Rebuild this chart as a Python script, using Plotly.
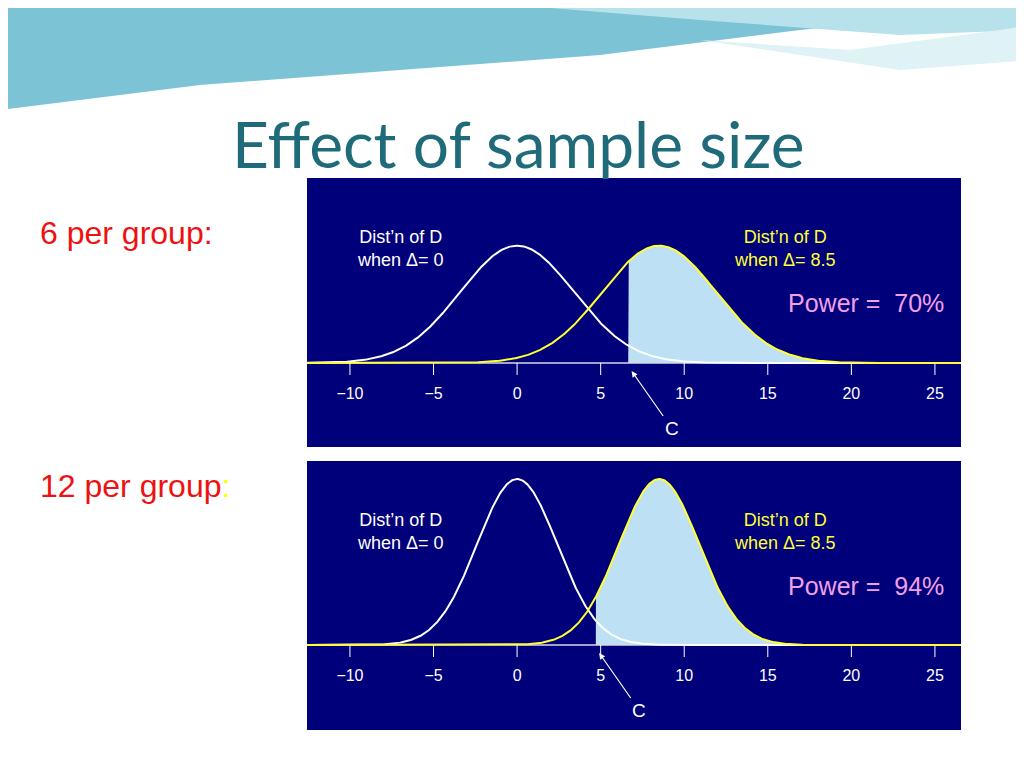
import numpy as np
import plotly.graph_objects as go

W, H = 1024, 768
OFF = 8
tick_vals = [-10, -5, 0, 5, 10, 15, 20, 25]
tick_text = ["\u221210", "\u22125", "0", "5", "10", "15", "20", "25"]
null_mean, alt_mean = 0.0, 8.5
sds = [3.4, 3.4 / np.sqrt(2)]
crits = [6.65, 4.71]
powers = ["70%", "94%"]
group_labels = ["6 per group:", "12 per group<span style='color:#ffff00'>:</span>"]

def px(x): return (x - OFF) / W
def py(y): return 1 - (y - OFF) / H

def dens(x, m, s): return np.exp(-0.5 * ((x - m) / s) ** 2) / (s * np.sqrt(2 * np.pi))

fig = go.Figure()
panels = [(178, 447, 363), (461, 730, 645)]
x = np.linspace(-12.6, 26.6, 800)
shapes, annos = [], []
for i, ((top, bot, base), sd, c, pw) in enumerate(zip(panels, sds, crits, powers)):
    n = "" if i == 0 else str(i + 1)
    shapes.append(dict(type="rect", xref="paper", yref="paper", x0=px(307), x1=px(961),
                       y0=py(bot), y1=py(top), fillcolor="#00007a", line_width=0, layer="below"))
    ymin = -(bot - base) * 0.001
    ymax = (base - top) * 0.001
    fig.update_layout(**{f"xaxis{n}": dict(domain=[px(307), px(961)], range=[-12.57, 26.56], visible=False,
                                           anchor=f"y{n}"),
                         f"yaxis{n}": dict(domain=[py(bot), py(top)], range=[ymin, ymax], visible=False,
                                           anchor=f"x{n}")})
    xa, ya = f"x{n}", f"y{n}"
    xs = x[x >= c]
    fig.add_trace(go.Scatter(x=np.r_[c, xs, xs[-1]], y=np.r_[0, dens(xs, alt_mean, sd), 0], fill="toself",
                             fillcolor="#bde0f5", line_width=0, mode="lines", xaxis=xa, yaxis=ya, hoverinfo="skip"))
    fig.add_trace(go.Scatter(x=[-12.6, 26.6], y=[0, 0], mode="lines", line=dict(color="#d8d8e8", width=1.5),
                             xaxis=xa, yaxis=ya))
    fig.add_trace(go.Scatter(x=x, y=dens(x, null_mean, sd), mode="lines", line=dict(color="white", width=2),
                             xaxis=xa, yaxis=ya))
    fig.add_trace(go.Scatter(x=x, y=dens(x, alt_mean, sd), mode="lines", line=dict(color="#ffff33", width=2),
                             xaxis=xa, yaxis=ya))
    tx, ty = [], []
    for t in tick_vals:
        tx += [t, t, None]; ty += [0, -0.012, None]
    fig.add_trace(go.Scatter(x=tx, y=ty, mode="lines", line=dict(color="white", width=1), xaxis=xa, yaxis=ya))
    fig.add_trace(go.Scatter(x=tick_vals, y=[-0.032] * 8, mode="text", text=tick_text,
                             textfont=dict(color="white", size=16, family="Liberation Sans"), xaxis=xa, yaxis=ya))
    yl = top + 70
    common = dict(xref="paper", yref="paper", showarrow=False, xanchor="center", yanchor="middle")
    annos.append(dict(x=px(400), y=py(yl), text="Dist\u2019n of D<br>when \u0394= 0",
                      font=dict(color="white", size=18, family="Liberation Sans"), **common))
    annos.append(dict(x=px(785), y=py(yl), text="Dist\u2019n of D<br>when \u0394= 8.5",
                      font=dict(color="#ffff33", size=18, family="Liberation Sans"), **common))
    annos.append(dict(x=px(866), y=py(top + 125), text=f"Power =  {pw}",
                      font=dict(color="#f0a0e8", size=25, family="Liberation Sans"), **common))
    annos.append(dict(xref=xa, yref=ya, x=c + 0.2, y=-0.008, ax=40, ay=57, text="C", showarrow=True,
                      arrowcolor="white", arrowhead=2, arrowwidth=1.2,
                      font=dict(color="white", size=19, family="Liberation Sans")))
    annos.append(dict(xref="paper", yref="paper", x=px(38), y=py(top + 55 if i == 0 else top + 25),
                      xanchor="left", yanchor="middle", text=group_labels[i], showarrow=False,
                      font=dict(color="#ee1111", size=32, family="Liberation Sans")))

annos.append(dict(xref="paper", yref="paper", x=px(518), y=py(143), xanchor="center", yanchor="middle",
                  text="Effect of sample size", showarrow=False,
                  font=dict(color="#1f6b7a", size=64, family="Lato")))

def path(pts):
    return "M " + " L ".join(f"{px(a):.4f},{py(b):.4f}" for a, b in pts) + " Z"

shapes.append(dict(type="path", xref="paper", yref="paper", fillcolor="#7cc3d6", line_width=0, layer="below",
                   path=path([(0, 0), (1032, 0), (1032, 5), (800, 30), (600, 55), (400, 70), (200, 85), (0, 110)])))
shapes.append(dict(type="path", xref="paper", yref="paper", fillcolor="#b7e2ec", line_width=0, layer="below",
                   path=path([(430, 0), (1032, 0), (1032, 30), (900, 35), (700, 20), (550, 8)])))
shapes.append(dict(type="path", xref="paper", yref="paper", fillcolor="#dff2f6", line_width=0, layer="below",
                   path=path([(700, 40), (850, 50), (1000, 30), (1032, 25), (1032, 60), (900, 70)])))

fig.update_layout(width=W, height=H, margin=dict(l=0, r=0, t=0, b=0), paper_bgcolor="white",
                  plot_bgcolor="rgba(0,0,0,0)", showlegend=False, shapes=shapes, annotations=annos)
fig.write_html("out.html")
